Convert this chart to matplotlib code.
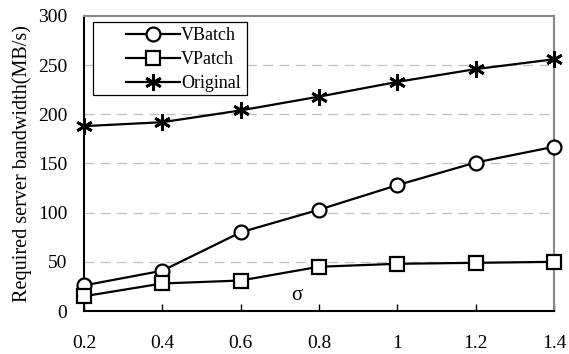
import matplotlib
matplotlib.use("Agg")
import matplotlib.pyplot as plt
from matplotlib.lines import Line2D
from matplotlib.patches import Rectangle

plt.rcParams['font.family'] = ['Liberation Serif', 'DejaVu Serif']

sigma = [0.2, 0.4, 0.6, 0.8, 1.0, 1.2, 1.4]
vbatch = [26, 41, 80, 103, 128, 151, 167]
vpatch = [15, 28, 31, 45, 48, 49, 50]
original = [188, 192, 204, 218, 233, 246, 256]
series_names = ['VBatch', 'VPatch', 'Original']
xtick_labels = ['0.2', '0.4', '0.6', '0.8', '1', '1.2', '1.4']
yticks = [0, 50, 100, 150, 200, 250, 300]

W, H = 569, 354
fig = plt.figure(figsize=(W/100, H/100), dpi=100)
ax = fig.add_axes([84/W, 1-311/H, 470/W, 295/H])

for y in yticks[1:-1]:
    ax.axhline(y, color='#c0c0c0', lw=0.9, ls=(0, (8, 5)), zorder=0)

styles = [
    dict(marker='o', ms=10, mfc='white', mew=1.6),
    dict(marker='s', ms=10, mfc='white', mew=1.6),
    dict(marker=(6, 2, 0), ms=12, mfc='black', mew=2.0),
]
for vals, st, name in zip([vbatch, vpatch, original], styles, series_names):
    ax.plot(sigma, vals, color='black', lw=1.6, mec='black',
            label=name, clip_on=False, zorder=3, **st)

ax.set_xlim(0.2, 1.4)
ax.set_ylim(0, 300)
ax.set_xticks(sigma)
ax.set_xticklabels(xtick_labels, fontsize=14)
ax.set_yticks(yticks)
ax.set_yticklabels([str(v) for v in yticks], fontsize=14)
ax.tick_params(axis='x', direction='in', length=5, width=1, pad=17)
ax.tick_params(axis='y', length=0, pad=12)

for s in ['left', 'bottom']:
    ax.spines[s].set_color('black')
    ax.spines[s].set_linewidth(1.5)
for s in ['top', 'right']:
    ax.spines[s].set_color('#888888')
    ax.spines[s].set_linewidth(1.5)

ax.set_ylabel('Required server bandwidth(MB/s)', fontsize=14.5, labelpad=4)
ax.text(0.453, 0.054, 'σ', transform=ax.transAxes, fontsize=15,
        ha='center', va='center')

# manual legend (Excel-like: handles right-aligned inside box)
tf = fig.transFigure
def fx(px):
    return px / W
def fy(py):
    return 1 - py / H
fig.patches.append(Rectangle((fx(93), fy(95)), (247-93)/W, (95-22)/H,
                             transform=tf, fill=True, facecolor='white',
                             edgecolor='black', lw=0.9, zorder=5))
rows = [34, 58, 82]
for row, st, name in zip(rows, styles, series_names):
    fig.lines.append(Line2D([fx(126), fx(180)], [fy(row), fy(row)], transform=tf,
                            color='black', lw=1.6, zorder=6))
    fig.lines.append(Line2D([fx(153)], [fy(row)], transform=tf, ls='none',
                            mec='black', zorder=7, **st))
    fig.text(fx(181), fy(row), name, fontsize=13, ha='left', va='center_baseline',
             zorder=8)

fig.savefig('out.png', dpi=100)
